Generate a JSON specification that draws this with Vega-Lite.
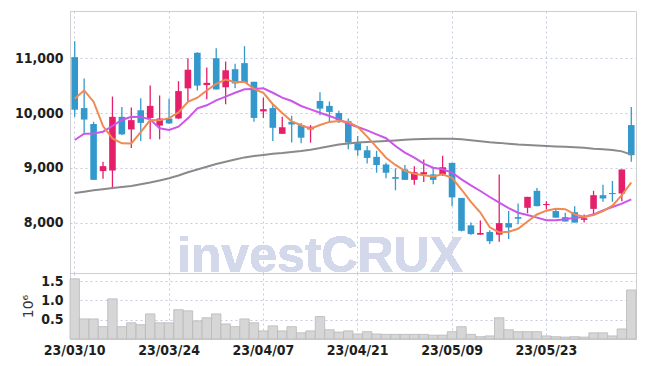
{
  "$schema": "https://vega.github.io/schema/vega-lite/v6.json",
  "background": "white",
  "padding": {"left": 13, "top": 10, "right": 8, "bottom": 0},
  "spacing": 0,
  "bounds": "flush",
  "config": {
    "view": {"stroke": "#cfcfcf"},
    "concat": {"spacing": 0},
    "axis": {
      "labelFont": "Liberation Sans Narrow, DejaVu Sans Condensed, Liberation Sans",
      "labelFontWeight": "bold",
      "labelFontSize": 14,
      "labelColor": "#1e1e1e",
      "ticks": false,
      "domainColor": "#cfcfcf",
      "gridColor": "#c6cae0",
      "gridDash": [2, 3],
      "gridWidth": 1
    }
  },
  "datasets": {
    "k": [
      {"d":"23/03/10","o":11020,"h":11310,"l":9930,"c":10060,"v":1.56,"m5":10261,"m20":9507,"m60":8540},
      {"d":"23/03/13","o":10090,"h":10630,"l":9640,"c":9880,"v":0.52,"m5":10414,"m20":9622,"m60":8565},
      {"d":"23/03/14","o":9800,"h":9840,"l":8780,"c":8780,"v":0.52,"m5":10206,"m20":9628,"m60":8590},
      {"d":"23/03/15","o":8940,"h":9110,"l":8800,"c":9030,"v":0.32,"m5":9763,"m20":9659,"m60":8610},
      {"d":"23/03/16","o":8950,"h":10300,"l":8610,"c":9930,"v":1.04,"m5":9536,"m20":9763,"m60":8630},
      {"d":"23/03/17","o":9930,"h":10110,"l":9600,"c":9610,"v":0.32,"m5":9446,"m20":9872,"m60":8650},
      {"d":"23/03/20","o":9700,"h":10100,"l":9360,"c":9870,"v":0.42,"m5":9444,"m20":9933,"m60":8670},
      {"d":"23/03/21","o":10050,"h":10270,"l":9490,"c":9820,"v":0.37,"m5":9652,"m20":9927,"m60":8700},
      {"d":"23/03/22","o":9910,"h":10500,"l":9520,"c":10130,"v":0.65,"m5":9872,"m20":9885,"m60":8730},
      {"d":"23/03/23","o":9770,"h":10320,"l":9520,"c":9900,"v":0.42,"m5":9866,"m20":9720,"m60":8770},
      {"d":"23/03/24","o":9900,"h":10260,"l":9800,"c":9810,"v":0.42,"m5":9906,"m20":9690,"m60":8810},
      {"d":"23/03/27","o":9900,"h":10580,"l":9890,"c":10400,"v":0.76,"m5":10012,"m20":9750,"m60":8860},
      {"d":"23/03/28","o":10450,"h":11000,"l":10210,"c":10790,"v":0.73,"m5":10206,"m20":9903,"m60":8920},
      {"d":"23/03/29","o":11100,"h":11110,"l":10410,"c":10500,"v":0.47,"m5":10280,"m20":10086,"m60":8970},
      {"d":"23/03/30","o":10510,"h":10830,"l":10250,"c":10550,"v":0.55,"m5":10410,"m20":10141,"m60":9020},
      {"d":"23/03/31","o":11000,"h":11180,"l":10430,"c":10430,"v":0.65,"m5":10534,"m20":10232,"m60":9070},
      {"d":"23/04/03","o":10470,"h":10940,"l":10160,"c":10780,"v":0.39,"m5":10610,"m20":10300,"m60":9110},
      {"d":"23/04/04","o":10800,"h":10900,"l":10450,"c":10540,"v":0.32,"m5":10560,"m20":10370,"m60":9150},
      {"d":"23/04/05","o":10910,"h":11220,"l":10550,"c":10550,"v":0.52,"m5":10570,"m20":10433,"m60":9190},
      {"d":"23/04/06","o":10570,"h":10570,"l":9840,"c":9910,"v":0.42,"m5":10442,"m20":10440,"m60":9215},
      {"d":"23/04/07","o":10030,"h":10280,"l":9910,"c":10070,"v":0.21,"m5":10370,"m20":10450,"m60":9235},
      {"d":"23/04/10","o":10090,"h":10150,"l":9490,"c":9730,"v":0.34,"m5":10160,"m20":10370,"m60":9255},
      {"d":"23/04/11","o":9620,"h":9930,"l":9620,"c":9740,"v":0.21,"m5":10000,"m20":10280,"m60":9270},
      {"d":"23/04/12","o":9840,"h":9950,"l":9460,"c":9790,"v":0.32,"m5":9848,"m20":10219,"m60":9290},
      {"d":"23/04/13","o":9780,"h":9820,"l":9450,"c":9550,"v":0.16,"m5":9776,"m20":10128,"m60":9305},
      {"d":"23/04/14","o":9700,"h":9780,"l":9460,"c":9750,"v":0.21,"m5":9712,"m20":10067,"m60":9330},
      {"d":"23/04/17","o":10220,"h":10380,"l":9960,"c":10080,"v":0.58,"m5":9782,"m20":10006,"m60":9360},
      {"d":"23/04/18","o":10130,"h":10210,"l":9840,"c":10020,"v":0.24,"m5":9838,"m20":9945,"m60":9395},
      {"d":"23/04/19","o":10000,"h":10040,"l":9820,"c":9870,"v":0.18,"m5":9854,"m20":9885,"m60":9425},
      {"d":"23/04/20","o":9850,"h":9900,"l":9340,"c":9460,"v":0.21,"m5":9836,"m20":9805,"m60":9445},
      {"d":"23/04/21","o":9450,"h":9580,"l":9220,"c":9320,"v":0.13,"m5":9750,"m20":9745,"m60":9460},
      {"d":"23/04/24","o":9320,"h":9400,"l":9080,"c":9180,"v":0.19,"m5":9570,"m20":9684,"m60":9470},
      {"d":"23/04/25","o":9200,"h":9310,"l":8910,"c":9050,"v":0.13,"m5":9376,"m20":9611,"m60":9480},
      {"d":"23/04/26","o":9060,"h":9090,"l":8810,"c":8910,"v":0.12,"m5":9184,"m20":9540,"m60":9490},
      {"d":"23/04/27","o":8830,"h":8990,"l":8590,"c":8800,"v":0.12,"m5":9052,"m20":9398,"m60":9500},
      {"d":"23/04/28","o":8970,"h":9050,"l":8780,"c":8780,"v":0.12,"m5":8944,"m20":9276,"m60":9510},
      {"d":"23/05/02","o":8780,"h":9030,"l":8690,"c":8920,"v":0.12,"m5":8892,"m20":9184,"m60":9520},
      {"d":"23/05/03","o":8880,"h":9150,"l":8740,"c":8920,"v":0.12,"m5":8866,"m20":9075,"m60":9525},
      {"d":"23/05/04","o":8880,"h":9000,"l":8700,"c":8780,"v":0.10,"m5":8840,"m20":9002,"m60":9530},
      {"d":"23/05/08","o":8880,"h":9220,"l":8850,"c":9010,"v":0.10,"m5":8882,"m20":8973,"m60":9530},
      {"d":"23/05/09","o":9090,"h":9090,"l":8300,"c":8460,"v":0.19,"m5":8818,"m20":8911,"m60":9530},
      {"d":"23/05/10","o":8450,"h":8450,"l":7840,"c":7850,"v":0.32,"m5":8604,"m20":8790,"m60":9520},
      {"d":"23/05/11","o":7950,"h":8000,"l":7780,"c":7790,"v":0.12,"m5":8378,"m20":8681,"m60":9505},
      {"d":"23/05/12","o":7780,"h":8040,"l":7780,"c":7810,"v":0.06,"m5":8184,"m20":8577,"m60":9485},
      {"d":"23/05/15","o":7830,"h":7860,"l":7610,"c":7660,"v":0.08,"m5":7914,"m20":8467,"m60":9465},
      {"d":"23/05/16","o":7780,"h":8880,"l":7650,"c":7990,"v":0.55,"m5":7820,"m20":8363,"m60":9455},
      {"d":"23/05/17","o":7990,"h":8210,"l":7700,"c":7910,"v":0.24,"m5":7832,"m20":8265,"m60":9440},
      {"d":"23/05/18","o":8100,"h":8350,"l":7970,"c":8070,"v":0.19,"m5":7888,"m20":8180,"m60":9425},
      {"d":"23/05/19","o":8270,"h":8470,"l":8170,"c":8470,"v":0.19,"m5":8020,"m20":8140,"m60":9415},
      {"d":"23/05/22","o":8580,"h":8630,"l":8300,"c":8300,"v":0.19,"m5":8148,"m20":8090,"m60":9405},
      {"d":"23/05/23","o":8320,"h":8390,"l":8240,"c":8340,"v":0.08,"m5":8218,"m20":8042,"m60":9398},
      {"d":"23/05/24","o":8210,"h":8260,"l":8090,"c":8090,"v":0.06,"m5":8254,"m20":8042,"m60":9390},
      {"d":"23/05/25","o":8100,"h":8180,"l":8020,"c":8020,"v":0.05,"m5":8244,"m20":8060,"m60":9385},
      {"d":"23/05/26","o":8190,"h":8300,"l":8000,"c":8000,"v":0.06,"m5":8150,"m20":8089,"m60":9375},
      {"d":"23/05/30","o":8050,"h":8150,"l":8000,"c":8080,"v":0.05,"m5":8106,"m20":8102,"m60":9365},
      {"d":"23/05/31","o":8250,"h":8580,"l":8120,"c":8500,"v":0.16,"m5":8138,"m20":8151,"m60":9350},
      {"d":"23/06/01","o":8500,"h":8690,"l":8380,"c":8440,"v":0.16,"m5":8208,"m20":8224,"m60":9340},
      {"d":"23/06/02","o":8540,"h":8760,"l":8380,"c":8520,"v":0.08,"m5":8308,"m20":8285,"m60":9325},
      {"d":"23/06/05","o":8530,"h":8970,"l":8390,"c":8970,"v":0.26,"m5":8502,"m20":8345,"m60":9300},
      {"d":"23/06/07","o":9780,"h":10110,"l":9110,"c":9230,"v":1.27,"m5":8732,"m20":8425,"m60":9240}
    ]
  },
  "vconcat": [
    {
      "width": 566,
      "height": 262,
      "data": {"name": "k"},
      "encoding": {
        "x": {
          "field": "d",
          "type": "ordinal",
          "scale": {"paddingInner": 0, "paddingOuter": 0},
          "axis": {
            "values": ["23/03/10", "23/03/24", "23/04/07", "23/04/21", "23/05/09", "23/05/23"],
            "labels": false,
            "domain": false,
            "grid": true,
            "title": null,
            "labelPadding": 0,
            "minExtent": 0,
            "maxExtent": 0
          }
        }
      },
      "layer": [
        {
          "mark": {"type": "text", "text": "investCRUX", "font": "Liberation Sans", "fontWeight": "bold", "fontSize": 50, "color": "#d3d8ea", "align": "center", "baseline": "alphabetic"},
          "encoding": {
            "x": {"datum": "23/04/17", "type": "ordinal"},
            "y": {"datum": 7098, "type": "quantitative"}
          }
        },
        {
          "mark": {"type": "rule", "strokeWidth": 1.3},
          "encoding": {
            "y": {
              "field": "l",
              "type": "quantitative",
              "scale": {"domain": [7080, 11862], "nice": false, "zero": false},
              "axis": {
                "values": [8000, 9000, 10000, 11000],
                "format": ",d",
                "title": null,
                "grid": true,
                "labelPadding": 7
              }
            },
            "y2": {"field": "h"},
            "color": {"condition": {"test": "datum.c >= datum.o", "value": "#e61f6b"}, "value": "#3399cc"}
          }
        },
        {
          "mark": {"type": "bar", "width": {"band": 0.7}},
          "encoding": {
            "y": {"field": "o", "type": "quantitative"},
            "y2": {"field": "c"},
            "color": {"condition": {"test": "datum.c >= datum.o", "value": "#e61f6b"}, "value": "#3399cc"}
          }
        },
        {
          "mark": {"type": "line", "color": "#8a8a8a", "strokeWidth": 2},
          "encoding": {"y": {"field": "m60", "type": "quantitative"}}
        },
        {
          "mark": {"type": "line", "color": "#cc55ea", "strokeWidth": 2},
          "encoding": {"y": {"field": "m20", "type": "quantitative"}}
        },
        {
          "mark": {"type": "line", "color": "#ef8a52", "strokeWidth": 2},
          "encoding": {"y": {"field": "m5", "type": "quantitative"}}
        }
      ]
    },
    {
      "width": 566,
      "height": 66,
      "data": {"name": "k"},
      "mark": {"type": "bar", "width": {"band": 1}, "fill": "#d6d6d6", "stroke": "#b9b9b9", "strokeWidth": 0.8},
      "encoding": {
        "x": {
          "field": "d",
          "type": "ordinal",
          "scale": {"paddingInner": 0, "paddingOuter": 0},
          "axis": {
            "values": ["23/03/10", "23/03/24", "23/04/07", "23/04/21", "23/05/09", "23/05/23"],
            "labelAngle": 0,
            "labelPadding": 4,
            "domain": false,
            "grid": true,
            "title": null
          }
        },
        "y": {
          "field": "v",
          "type": "quantitative",
          "scale": {"domain": [0, 1.71], "nice": false},
          "axis": {
            "values": [0.5, 1, 1.5],
            "format": ".1f",
            "grid": true,
            "title": "10⁶",
            "titleFont": "DejaVu Sans",
            "titleFontWeight": "normal",
            "titleFontSize": 14,
            "titleColor": "#333333",
            "titlePadding": 5,
            "labelPadding": 7
          }
        }
      }
    }
  ]
}
